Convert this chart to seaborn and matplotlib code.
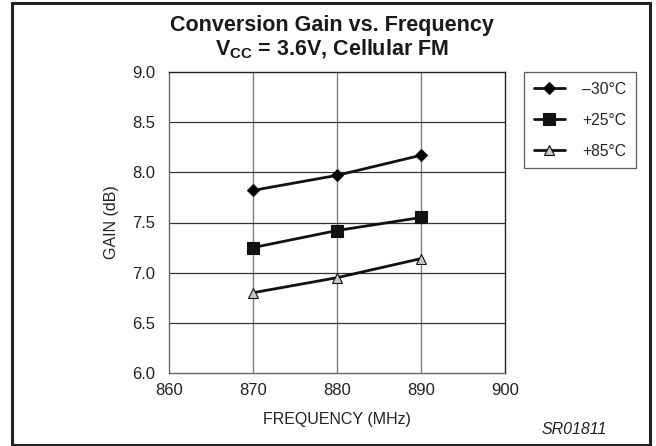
import numpy as np
import pandas as pd
import seaborn as sns
import matplotlib.pyplot as plt
from matplotlib.patches import Rectangle
from matplotlib.lines import Line2D

# data
freq = [870, 880, 890]
gain_m30 = [7.82, 7.97, 8.17]
gain_p25 = [7.25, 7.42, 7.55]
gain_p85 = [6.80, 6.95, 7.14]
labels = ["\u201330\u00b0C", "+25\u00b0C", "+85\u00b0C"]
x_ticks = [860, 870, 880, 890, 900]
y_ticks = [6.0, 6.5, 7.0, 7.5, 8.0, 8.5, 9.0]

sns.set_style("white")
plt.rcParams['font.family'] = ['Liberation Sans', 'DejaVu Sans']
plt.rcParams['mathtext.fontset'] = 'custom'
plt.rcParams['mathtext.bf'] = 'Liberation Sans:bold'
plt.rcParams['mathtext.rm'] = 'Liberation Sans'

W, H = 656, 446
fig = plt.figure(figsize=(W / 100, H / 100), dpi=100)

# outer frame
fig.patches.append(Rectangle((12 / W, 1 - 445 / H), 638 / W, 442 / H,
                             transform=fig.transFigure, fill=False,
                             edgecolor='#222222', linewidth=2.2))

ax = fig.add_axes([169 / W, 1 - 373 / H, 336 / W, 301 / H])

series = [gain_m30, gain_p25, gain_p85]
styles = [dict(marker='D', markersize=6.5, markerfacecolor='black'),
          dict(marker='s', markersize=8, markerfacecolor='#111111'),
          dict(marker='^', markersize=7.5, markerfacecolor='#c8c8c8')]
handles = []
for vals, lab, st in zip(series, labels, styles):
    df = pd.DataFrame({'freq': freq, 'gain': vals})
    sns.lineplot(data=df, x='freq', y='gain', ax=ax, color='#111111',
                 linewidth=2.0, markeredgecolor='#111111', markeredgewidth=0.8,
                 legend=False, **st)
    handles.append(Line2D([], [], color='#111111', linewidth=2.0,
                          markeredgecolor='#111111', markeredgewidth=0.8, **st))

ax.set_xlim(860, 900)
ax.set_ylim(6.0, 9.0)
ax.set_xticks(x_ticks)
ax.set_yticks(y_ticks)
ax.set_yticklabels([f"{v:.1f}" for v in y_ticks])
ax.tick_params(axis='both', length=0, labelsize=12, colors='#222222')
ax.tick_params(axis='x', pad=7)
ax.tick_params(axis='y', pad=10)
for v in x_ticks[1:-1]:
    ax.axvline(v, color='#808080', linewidth=1.0, zorder=0)
for v in y_ticks[1:-1]:
    ax.axhline(v, color='#333333', linewidth=0.9, zorder=0)
for side in ['left', 'bottom']:
    ax.spines[side].set_color('#666666')
for side in ['top', 'right']:
    ax.spines[side].set_color('#222222')
for sp in ax.spines.values():
    sp.set_linewidth(1.0)

ax.set_xlabel("FREQUENCY (MHz)", fontsize=11.5, color='#222222', labelpad=10)
ax.set_ylabel("GAIN (dB)", fontsize=11.5, color='#222222', labelpad=9)

fig.text(332 / W, 1 - 26 / H, "Conversion Gain vs. Frequency",
         ha='center', va='center', fontsize=15.5, fontweight='bold', color='#1a1a1a')
fig.text(332 / W, 1 - 55 / H, r"V$_\mathbf{CC}$ = 3.6V, Cellular FM",
         ha='center', va='baseline', fontsize=15.5, fontweight='bold', color='#1a1a1a')
fig.text(574 / W, 1 - 430 / H, "SR01811", ha='center', va='center',
         fontsize=11.5, style='italic', color='#222222')

leg = fig.legend(handles, labels, loc='upper left',
                 bbox_to_anchor=(524 / W, 1 - 72 / H), frameon=True,
                 fancybox=False, fontsize=11.3, handlelength=2.0,
                 handletextpad=1.1, labelspacing=1.02, borderpad=0.62,
                 borderaxespad=0)
leg.get_frame().set_edgecolor('#333333')
leg.get_frame().set_linewidth(0.9)

fig.savefig("out.png", dpi=100)
